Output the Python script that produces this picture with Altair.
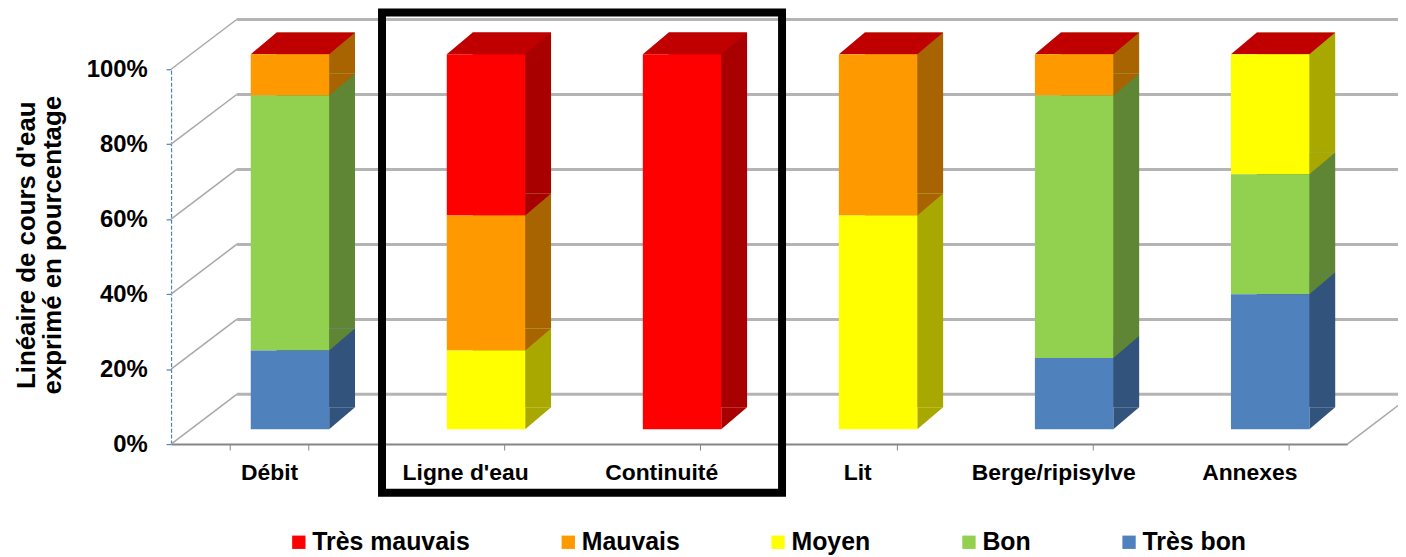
import altair as alt
import pandas as pd

# ---------------- data ----------------
categories = ["Débit", "Ligne d'eau", "Continuité", "Lit", "Berge/ripisylve", "Annexes"]
statuses = ["Très mauvais", "Mauvais", "Moyen", "Bon", "Très bon"]
tres_mauvais = [0, 43, 100, 0, 0, 0]
mauvais = [11, 36, 0, 43, 11, 0]
moyen = [0, 21, 0, 57, 0, 32]
bon = [68, 0, 0, 0, 70, 32]
tres_bon = [21, 0, 0, 0, 19, 36]
y_ticks = [0, 20, 40, 60, 80, 100]
y_title = ["Linéaire de cours d'eau", "exprimé en pourcentage"]
framed = ["Ligne d'eau", "Continuité"]

# ---------------- styles ----------------
front_colors = ["#FF0000", "#FF9900", "#FFFF00", "#92D050", "#4F81BD"]
side_colors = ["#A80000", "#A86400", "#A8A800", "#5E8634", "#32537C"]
top_color = "#C00000"
FONT = "Liberation Sans"

# ---------------- layout ----------------
W, H = 1183, 377
PAD = {"left": 164, "top": 60, "right": 51, "bottom": 112}
STEP = W / len(categories)
BW = 0.4 * STEP
FX, FY = 21, -15      # front face offset from axis plane
DX, DY = 26, -22      # bar depth
WX, WY = 66, -50      # back wall offset

series = [tres_mauvais, mauvais, moyen, bon, tres_bon]
rows = []
for si, (st, vals) in enumerate(zip(statuses, series)):
    for c, v in zip(categories, vals):
        rows.append({"cat": c, "status": st, "value": v / 100.0,
                     "rank": len(statuses) - 1 - si,
                     "side": side_colors[si]})
df = pd.DataFrame(rows)
grid = pd.DataFrame({"v": [t / 100.0 for t in y_ticks]})
tops = pd.DataFrame({"cat": categories, "v": [1.0] * len(categories)})
floor = pd.DataFrame({"v": [0.0]})

xscale = alt.Scale(domain=categories, paddingInner=0.6, paddingOuter=0.3)
yscale = alt.Scale(domain=[0, 1], nice=False, zero=True)

xaxis = alt.Axis(title=None, labelAngle=0, labelFont=FONT, labelFontSize=23,
                 labelFontWeight="bold", labelColor="black", labelPadding=12,
                 tickBand="extent", tickSize=6, tickColor="#868686",
                 domainColor="#868686", domainWidth=2, grid=False)
yaxis = alt.Axis(values=[t / 100.0 for t in y_ticks], format=".0%", grid=False,
                 labelFont=FONT, labelFontSize=24, labelFontWeight="bold",
                 labelColor="black", labelPadding=19,
                 domainColor="#4F81BD", domainDash=[4, 2], domainWidth=1.2,
                 tickColor="#4F81BD", tickSize=5, tickWidth=1.2,
                 title=y_title, titleFont=FONT, titleFontSize=26,
                 titleFontWeight="bold", titleColor="black", titleAngle=270,
                 titleX=-145, titleY=H / 2 - 12, titleAlign="center",
                 titleBaseline="middle", titleLineHeight=26)

X = alt.X("cat:N", scale=xscale, axis=xaxis, sort=categories)

# back wall gridlines
walls = alt.Chart(grid).mark_rule(color="#B4B4B4", strokeWidth=3, yOffset=WY).encode(
    x=alt.value(WX), x2=alt.value(W + PAD["right"]),
    y=alt.Y("v:Q", scale=yscale, axis=yaxis))
diags = alt.Chart(grid).mark_rule(color="#A8A8A8", strokeWidth=1.5, y2Offset=WY).encode(
    x=alt.value(0), x2=alt.value(WX),
    y=alt.Y("v:Q", scale=yscale, axis=yaxis), y2="v:Q")
floor_r = alt.Chart(floor).mark_rule(color="#A8A8A8", strokeWidth=1.5,
                                     y2Offset=WY * PAD["right"] / WX).encode(
    x=alt.value(W), x2=alt.value(W + PAD["right"]),
    y=alt.Y("v:Q", scale=yscale, axis=yaxis), y2="v:Q")

stacked = alt.Chart(df).transform_filter("datum.value > 0").transform_stack(
    stack="value", groupby=["cat"], sort=[alt.SortField("rank", order="ascending")],
    as_=["y0", "y1"])

side = stacked.mark_bar(xOffset=FX + DX, yOffset=FY + DY, y2Offset=FY + DY).encode(
    x=X, y=alt.Y("y0:Q", scale=yscale, axis=yaxis), y2="y1:Q",
    color=alt.Color("side:N", scale=None))

tri_path = f"M-1,{DY/DX:.4f}L1,{DY/DX:.4f}L-1,{-DY/DX:.4f}Z"
tris = stacked.mark_point(shape=tri_path, size=DX * DX, filled=True, opacity=1,
                          strokeWidth=0, xOffset=BW / 2 + FX + DX / 2,
                          yOffset=FY + DY / 2).encode(
    x=X, y=alt.Y("y0:Q", scale=yscale, axis=yaxis),
    color=alt.Color("side:N", scale=None))

R = (BW + DX) / 2
hy = -DY / 2 / R
top_path = (f"M-1,{hy:.4f}L{(BW - R) / R:.4f},{hy:.4f}"
            f"L1,{-hy:.4f}L{(DX - R) / R:.4f},{-hy:.4f}Z")
top = alt.Chart(tops).mark_point(shape=top_path, size=(2 * R) ** 2, filled=True,
                                 opacity=1, strokeWidth=0, color=top_color,
                                 xOffset=FX + DX / 2, yOffset=FY + DY / 2).encode(
    x=X, y=alt.Y("v:Q", scale=yscale, axis=yaxis))

front = stacked.mark_bar(xOffset=FX, yOffset=FY, y2Offset=FY).encode(
    x=X, y=alt.Y("y0:Q", scale=yscale, axis=yaxis), y2="y1:Q",
    color=alt.Color("status:N", scale=alt.Scale(domain=statuses, range=front_colors),
                    legend=alt.Legend(orient="none", legendX=116, legendY=463,
                                      direction="horizontal", columns=5, title=None,
                                      symbolType="square", symbolSize=180,
                                      symbolStrokeWidth=0, labelFont=FONT,
                                      labelFontSize=25, labelFontWeight="bold",
                                      labelColor="black", labelOffset=1,
                                      columnPadding=86, padding=0)))

frame = alt.Chart(floor).mark_rect(fill="white", fillOpacity=0, stroke="black",
                                   strokeWidth=8, yOffset=49, y2Offset=-57,
                                   xOffset=-STEP / 2 + 15, x2Offset=STEP / 2 + 23).encode(
    x=alt.X(datum=framed[0], type="nominal", scale=xscale, axis=xaxis),
    x2=alt.X2(datum=framed[1]),
    y=alt.Y(datum=0, type="quantitative", scale=yscale, axis=yaxis),
    y2=alt.Y2(datum=1))

chart = alt.layer(walls, diags, floor_r, side, tris, top, front, frame).resolve_scale(
    color="independent").properties(
    width=W, height=H, padding=PAD, autosize=alt.AutoSizeParams(type="none")
).configure_view(stroke=None)

chart.save("out.html", embed_options={"renderer": "svg", "actions": False})
